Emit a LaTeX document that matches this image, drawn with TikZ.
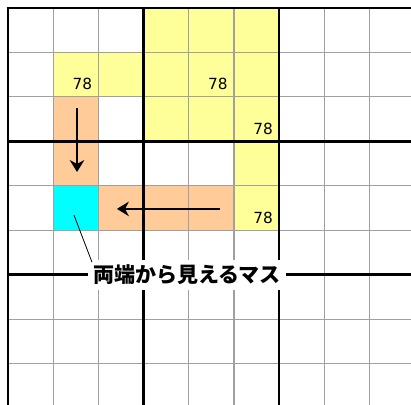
\documentclass[tikz,border=0pt]{standalone}
\usepackage{fontspec}
\newfontfamily\jpfont{Noto Sans CJK JP}
\newfontfamily\numfont{DejaVu Sans}
\usetikzlibrary{arrows.meta}
\definecolor{cyel}{HTML}{FFFF99}
\definecolor{cpeach}{HTML}{FFCC99}
\definecolor{ccyan}{HTML}{00FFFF}
\definecolor{cgray}{HTML}{A0A0A0}
\tikzset{
  thingrid/.style={draw=cgray, line width=0.8pt},
  thickgrid/.style={draw=black, line width=1.9pt},
  numtxt/.style={font=\numfont\fontsize{11.5pt}{12pt}\selectfont, inner sep=0pt, anchor=base east},
  lbltxt/.style={fill=white, font=\jpfont\bfseries\fontsize{15.75pt}{16pt}\selectfont, inner xsep=3.75pt, inner ysep=0pt, minimum height=22.5pt},
  movearrow/.style={draw=black, line width=0.9pt, -{Stealth[length=9pt,width=11pt]}},
  leader/.style={draw=black, line width=0.6pt}
}
\begin{document}
\begin{tikzpicture}[x=33.9pt,y=-33.3375pt]
\useasboundingbox (-0.177,-0.18) rectangle (8.916,8.931);
\clip (-0.177,-0.18) rectangle (8.916,8.931);
% coloured cells
\foreach \c/\r in {3/0,4/0,5/0,1/1,2/1,3/1,4/1,5/1,3/2,4/2,5/2,5/3,5/4}
  \fill[cyel] (\c,\r) rectangle ++(1,1);
\foreach \c/\r in {1/2,1/3,2/4,3/4,4/4}
  \fill[cpeach] (\c,\r) rectangle ++(1,1);
\fill[ccyan] (1,4) rectangle ++(1,1);
% thin grid
\foreach \i in {1,2,4,5,7,8} {
  \draw[thingrid] (\i,0) -- (\i,9.5);
  \draw[thingrid] (0,\i) -- (9.5,\i);
}
% thick grid
\foreach \i in {0,3,6} {
  \draw[thickgrid] (\i,-0.03) -- (\i,9.5);
  \draw[thickgrid] (-0.03,\i) -- (9.5,\i);
}
% candidate numbers
\node[numtxt] (n1) at ([xshift=-4.5pt,yshift=5.25pt]2,2) {78};
\node[numtxt] (n2) at ([xshift=-4.5pt,yshift=5.25pt]5,2) {78};
\node[numtxt] (n3) at ([xshift=-4.5pt,yshift=5.25pt]6,3) {78};
\node[numtxt] (n4) at ([xshift=-4.5pt,yshift=5.25pt]6,5) {78};
% arrows
\coordinate (va) at (1.527,2.25);
\coordinate (vb) at (1.527,3.69);
\coordinate (ha) at (4.69,4.52);
\coordinate (hb) at (2.41,4.52);
\draw[movearrow] (va) -- (vb);
\draw[movearrow] (ha) -- (hb);
% label
\node[lbltxt] (lbl) at (3.96,6.0) {両端から見えるマス};
\coordinate (lead) at (1.46,4.66);
\draw[leader] (lead) -- ([xshift=3pt,yshift=-2pt]lbl.north west);
\end{tikzpicture}
\end{document}
